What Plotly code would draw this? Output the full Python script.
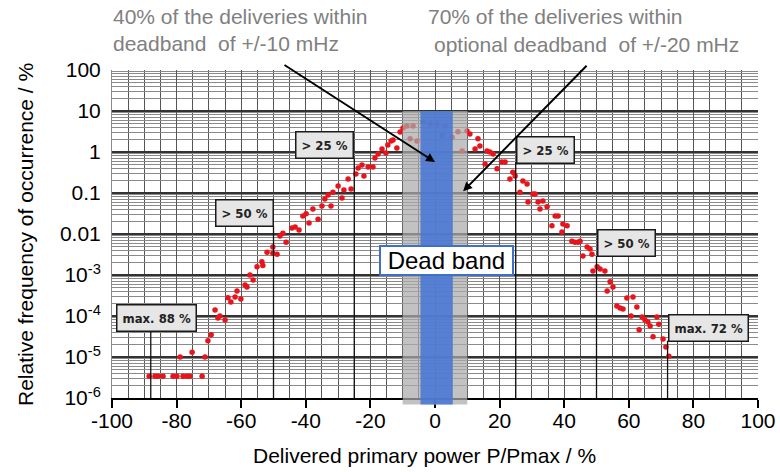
import plotly.graph_objects as go
import math

# ---------------- data ----------------
power_left = [-88.5, -86.7, -85.8, -84.2, -81.1, -79.9, -78.0, -76.8, -75.9, -72.1,
              -78.9, -75.2, -71.2, -70.3, -69.3, -68.1, -67.2, -66.6, -65.0, -64.1,
              -63.2, -61.9, -60.1, -61.3, -58.8, -58.2, -57.3, -56.3, -55.1, -53.6,
              -53.3, -52.0, -50.2, -50.2, -48.9, -48.0, -47.1, -46.1, -44.3, -43.3,
              -42.1, -40.9, -39.9, -39.0, -37.8, -36.2, -35.0, -34.1, -33.1, -32.2,
              -31.6, -30.0, -28.8, -28.2, -26.9, -26.0, -24.5, -23.8, -22.6, -22.0,
              -20.7, -19.2, -18.6, -17.6, -16.4, -15.2, -14.6, -13.6, -13.0, -11.8,
              -10.8, -9.9, -8.7, -7.7, -6.8, -5.6]
freq_left = [3.4e-6, 3.4e-6, 3.4e-6, 3.4e-6, 3.4e-6, 3.4e-6, 3.4e-6, 3.4e-6, 3.4e-6, 3.4e-6,
             1.0e-5, 1.3e-5, 1.0e-5, 2.5e-5, 3.5e-5, 1.4e-4, 8.9e-5, 1.0e-4, 8.0e-5, 2.8e-4,
             2.2e-4, 2.9e-4, 2.6e-4, 4.1e-4, 5.7e-4, 5.1e-4, 1.0e-3, 7.6e-4, 1.6e-3, 2.1e-3,
             1.7e-3, 3.6e-3, 4.8e-3, 3.4e-3, 3.2e-3, 8.9e-3, 1.05e-2, 6.3e-3, 1.4e-2, 1.48e-2,
             1.25e-2, 2.75e-2, 3.1e-2, 1.86e-2, 4.1e-2, 2.3e-2, 4.8e-2, 7.1e-2, 8.9e-2, 4.8e-2,
             0.105, 0.148, 0.076, 0.118, 0.22, 0.125, 0.29, 0.41, 0.48, 0.26,
             0.43, 0.43, 0.71, 0.89, 1.18, 0.95, 1.48, 1.85, 1.96, 1.25,
             3.07, 3.85, 4.3, 2.1, 4.3, 1.85]

power_center = [-3.7, -1.5, 0.6, 3.1, 2.2, 5.3, 7.1, 8.4, 9.9, 10.8]
freq_center = [5.4, 4.8, 4.8, 4.3, 2.5, 2.3, 3.1, 1.06, 3.25, 2.75]

power_right = [12.4, 13.3, 13.9, 16.1, 17.0, 18.0, 15.5, 19.2, 20.7, 21.7,
               23.2, 24.1, 24.8, 26.3, 27.2, 28.5, 28.8, 30.3, 31.0, 31.9,
               32.5, 33.4, 34.7, 36.2, 37.2, 38.1, 39.6, 39.3, 40.9, 42.4,
               43.3, 44.3, 44.9, 45.8, 47.1, 48.0, 48.6, 48.9, 50.2, 51.1,
               52.6, 53.3, 54.2, 55.1, 56.3, 57.3, 58.2, 59.4, 61.3, 62.5,
               60.7, 64.1, 65.0, 65.9, 66.6, 68.7, 69.3, 63.2, 67.5, 70.6,
               71.5, 72.4]
freq_right = [1.18, 2.1, 1.4, 1.06, 1.0, 0.89, 0.51, 0.39, 0.57, 0.57,
              0.22, 0.32, 0.26, 0.105, 0.196, 0.166, 0.060, 0.095, 0.095, 0.060,
              0.041, 0.064, 0.046, 0.0158, 0.0275, 0.0275, 0.0175, 0.0112, 0.0158, 6.7e-3,
              6.3e-3, 6.3e-3, 6.7e-3, 2.9e-3, 4.8e-3, 4.3e-3, 3.2e-3, 1.26e-3, 1.58e-3, 1.4e-3,
              1.26e-3, 4.1e-4, 6.8e-4, 5.1e-4, 1.75e-4, 1.57e-4, 1.48e-4, 2.75e-4, 2.9e-4, 1.66e-4,
              1.0e-4, 9.5e-5, 8.0e-5, 7.1e-5, 5.7e-5, 9.5e-5, 6.3e-5, 4.6e-5, 3.1e-5, 2.75e-5,
              1.75e-5, 1.05e-5]

x_ticks = [-100, -80, -60, -40, -20, 0, 20, 40, 60, 80, 100]
x_ticktext = ["-100", "-80", "-60", "-40", "-20", "0", "20", "40", "60", "80", "100"]
y_ticks = [1e-6, 1e-5, 1e-4, 1e-3, 0.01, 0.1, 1, 10, 100]
y_ticktext = ["10<sup>-6</sup>", "10<sup>-5</sup>", "10<sup>-4</sup>", "10<sup>-3</sup>",
              "0.01", "0.1", "1", "10", "100"]

# threshold markers
limit_x = [-88, -50, -25, 25, 50, 72]
limit_labels = ["max. 88 %", "> 50 %", "> 25 %", "> 25 %", "> 50 %", "max. 72 %"]
limit_label_y = [8.9e-5, 0.032, 1.48, 1.12, 6.2e-3, 5.0e-5]
limit_line_top = [4.1e-5, 0.016, 0.7, 0.57, 2.9e-3, 2.5e-5]

deadband_gray = (-10, 10)
deadband_blue = (-4.5, 5.5)

Y_RANGE = (-6, 2)

FONT = "Liberation Sans, Arial, Helvetica, sans-serif"
NARROW = "Liberation Sans Narrow, Arial Narrow, DejaVu Sans Condensed, sans-serif"

fig = go.Figure()

fig.add_trace(go.Scatter(
    x=power_left + power_center + power_right,
    y=freq_left + freq_center + freq_right,
    mode="markers",
    marker=dict(color="#e8141c", size=5.5),
    hoverinfo="skip", showlegend=False, cliponaxis=True))

for lx, top in zip(limit_x, limit_line_top):
    fig.add_trace(go.Scatter(x=[lx, lx], y=[top, 10 ** Y_RANGE[0]], mode="lines",
                             line=dict(color="#111111", width=1.3),
                             hoverinfo="skip", showlegend=False))

shapes = []
top_frac = (1 - Y_RANGE[0]) / (Y_RANGE[1] - Y_RANGE[0])
shapes.append(dict(type="rect", xref="x", yref="paper", x0=deadband_gray[0], x1=deadband_gray[1],
                   y0=-0.02, y1=top_frac, fillcolor="rgba(170,170,170,0.72)", line=dict(width=0),
                   layer="above"))
shapes.append(dict(type="rect", xref="x", yref="paper", x0=deadband_blue[0], x1=deadband_blue[1],
                   y0=-0.02, y1=top_frac, fillcolor="rgba(72,118,212,0.88)", line=dict(width=0),
                   layer="above"))

annotations = []
for lx, lab, ly in zip(limit_x, limit_labels, limit_label_y):
    if lab.startswith("max. 88"):
        xa, xv = "center", -86.1
    elif lx < 0:
        xa, xv = "right", lx
    else:
        xa, xv = "left", lx
    annotations.append(dict(x=xv, y=math.log10(ly), xref="x", yref="y", text="<b>%s</b>" % lab,
                            showarrow=False, xanchor=xa, yanchor="middle",
                            font=dict(family=NARROW, size=13, color="#222222"),
                            bgcolor="#e6e6e6", bordercolor="#1a1a1a", borderwidth=1.5, borderpad=5))

annotations.append(dict(x=3.5, y=math.log10(2.2e-3), xref="x", yref="y",
                        text="&nbsp;Dead band&nbsp;",
                        showarrow=False, font=dict(family=FONT, size=24, color="#000000"),
                        bgcolor="#ffffff", bordercolor="#3f6fc6", borderwidth=2, borderpad=0))

annotations.append(dict(x=0, y=math.log10(0.57), xref="x", yref="y", text="", showarrow=True,
                        ax=-152, ay=-98, arrowhead=2, arrowsize=0.9, arrowwidth=2, arrowcolor="#000000"))
annotations.append(dict(x=8.7, y=math.log10(0.11), xref="x", yref="y", text="", showarrow=True,
                        ax=125, ay=-127, arrowhead=2, arrowsize=0.9, arrowwidth=2, arrowcolor="#000000"))

notes = [("40% of the deliveries within", -0.0015, 1.1616),
         ("deadband  of +/-10 mHz", -0.0015, 1.080),
         ("70% of the deliveries within", 0.486, 1.1616),
         ("optional deadband  of +/-20 mHz", 0.495, 1.078)]
for t, nx, ny in notes:
    annotations.append(dict(x=nx, y=ny, xref="paper", yref="paper", text=t.replace("  ", "&nbsp; "),
                            showarrow=False, xanchor="left", yanchor="middle",
                            font=dict(family=FONT, size=21, color="#808080")))

annotations.append(dict(x=-0.1347, y=0.5, xref="paper", yref="paper",
                        text="Relative frequency of occurrence / %", textangle=-90,
                        showarrow=False, xanchor="center", yanchor="middle",
                        font=dict(family=FONT, size=21, color="#000000")))
annotations.append(dict(x=0.4845, y=-0.174, xref="paper", yref="paper",
                        text="Delivered primary power P/Pmax / %",
                        showarrow=False, xanchor="center", yanchor="middle",
                        font=dict(family=FONT, size=21, color="#000000")))

fig.update_layout(
    width=780, height=472,
    margin=dict(l=112, r=22, t=70, b=74),
    paper_bgcolor="#ffffff", plot_bgcolor="#ffffff",
    showlegend=False,
    shapes=shapes, annotations=annotations,
    xaxis=dict(range=[-100, 100], tickmode="array", tickvals=x_ticks, ticktext=x_ticktext,
               ticks="outside", ticklen=8, tickwidth=1.5, tickcolor="#000000",
               showline=True, linecolor="#000000", linewidth=1.5, automargin=False,
               showgrid=True, gridcolor="#555555", gridwidth=1, zeroline=False,
               minor=dict(tick0=0, dtick=5, showgrid=True, gridcolor="#555555", gridwidth=1, ticks=""),
               tickfont=dict(family=FONT, size=21, color="#000000"), ticklabelstandoff=-5),
    yaxis=dict(type="log", range=list(Y_RANGE), tickmode="array", tickvals=y_ticks, ticktext=y_ticktext,
               ticks="", showline=True, linecolor="#8a8a8a", linewidth=1, automargin=False,
               showgrid=True, gridcolor="#333333", gridwidth=1.5, zeroline=False,
               minor=dict(dtick="D1", showgrid=True, gridcolor="#8a8a8a", gridwidth=1, ticks=""),
               tickfont=dict(family=FONT, size=21, color="#000000"), ticklabelstandoff=6),
)

fig.write_html("out.html", config={"displayModeBar": False},
               post_script="document.body.style.margin='0';document.body.style.overflow='hidden';")
